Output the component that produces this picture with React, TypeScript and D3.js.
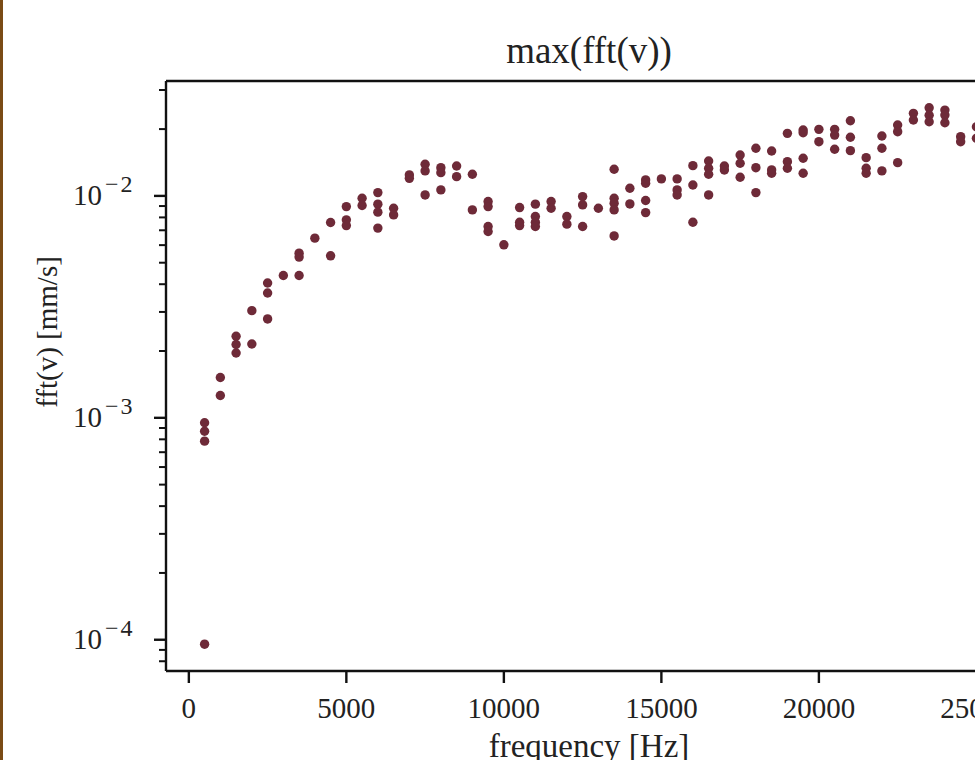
import React from "react";
import * as d3 from "d3";

const freqs = [
  500, 1000, 1500, 2000, 2500, 3000, 3500, 4000, 4500, 5000,
  5500, 6000, 6500, 7000, 7500, 8000, 8500, 9000, 9500, 10000,
  10500, 11000, 11500, 12000, 12500, 13000, 13500, 14000, 14500, 15000,
  15500, 16000, 16500, 17000, 17500, 18000, 18500, 19000, 19500, 20000,
  20500, 21000, 21500, 22000, 22500, 23000, 23500, 24000, 24500, 25000,
];

// measured maxima (mm/s) for each frequency
const amplitudes: number[][] = [
  [9.5e-4, 8.7e-4, 7.85e-4, 9.55e-5],
  [1.52e-3, 1.26e-3],
  [2.33e-3, 2.14e-3, 1.96e-3],
  [3.04e-3, 2.15e-3],
  [4.05e-3, 3.65e-3, 2.79e-3],
  [4.38e-3],
  [5.52e-3, 5.3e-3, 4.38e-3],
  [6.45e-3],
  [7.59e-3, 5.37e-3],
  [8.95e-3, 7.8e-3, 7.35e-3],
  [9.76e-3, 9.05e-3],
  [1.035e-2, 9.18e-3, 8.45e-3, 7.16e-3],
  [8.8e-3, 8.21e-3],
  [1.243e-2, 1.2e-2],
  [1.389e-2, 1.296e-2, 1.01e-2],
  [1.34e-2, 1.273e-2, 1.064e-2],
  [1.364e-2, 1.221e-2],
  [1.252e-2, 8.65e-3],
  [9.43e-3, 8.95e-3, 7.28e-3, 6.91e-3],
  [6.02e-3],
  [8.86e-3, 7.61e-3, 7.35e-3],
  [9.18e-3, 8.07e-3, 7.6e-3, 7.28e-3],
  [9.43e-3, 8.8e-3],
  [8.07e-3, 7.46e-3],
  [9.93e-3, 9.11e-3, 7.28e-3],
  [8.8e-3],
  [1.318e-2, 9.76e-3, 9.27e-3, 8.65e-3, 6.6e-3],
  [1.083e-2, 9.2e-3],
  [1.18e-2, 1.14e-2, 9.53e-3, 8.41e-3],
  [1.193e-2],
  [1.193e-2, 1.064e-2, 1.01e-2],
  [1.369e-2, 1.12e-2, 7.61e-3],
  [1.437e-2, 1.332e-2, 1.252e-2, 1.01e-2],
  [1.364e-2, 1.309e-2],
  [1.529e-2, 1.403e-2, 1.214e-2],
  [1.64e-2, 1.34e-2, 1.035e-2],
  [1.594e-2, 1.309e-2, 1.265e-2],
  [1.914e-2, 1.427e-2, 1.332e-2],
  [1.98e-2, 1.927e-2, 1.478e-2, 1.265e-2],
  [1.995e-2, 1.755e-2],
  [1.995e-2, 1.88e-2, 1.622e-2],
  [2.18e-2, 1.837e-2, 1.599e-2],
  [1.487e-2, 1.332e-2, 1.265e-2],
  [1.862e-2, 1.64e-2, 1.296e-2],
  [2.087e-2, 1.947e-2, 1.412e-2],
  [2.355e-2, 2.197e-2],
  [2.494e-2, 2.31e-2, 2.159e-2],
  [2.436e-2, 2.313e-2, 2.137e-2],
  [1.849e-2, 1.755e-2],
  [2.05e-2, 1.818e-2],
];

const xTicks = [0, 5000, 10000, 15000, 20000, 25000];
const yMajorExps = [-4, -3, -2];
const title = "max(fft(v))";
const xLabel = "frequency [Hz]";
const yLabel = "fft(v) [mm/s]";

const W = 975;
const H = 760;
const FONT = "'Liberation Serif', 'DejaVu Serif', serif";
const DOT = "#6e2a38";

export default function App() {
  const points = freqs.flatMap((f, i) => amplitudes[i].map((a) => ({ f, a })));
  const fMin = d3.min(points, (p) => p.f)!;
  const fMax = d3.max(points, (p) => p.f)!;
  const pad = (fMax - fMin) * 0.05;
  const left = 166, right = 1015, top = 81, bottom = 671;
  const x = d3.scaleLinear().domain([fMin - pad, fMax + pad]).range([left, right]);

  const lMin = Math.log10(d3.min(points, (p) => p.a)!);
  const lMax = Math.log10(d3.max(points, (p) => p.a)!);
  const lp = (lMax - lMin) * 0.05;
  const y = d3
    .scaleLog()
    .domain([Math.pow(10, lMin - lp), Math.pow(10, lMax + lp)])
    .range([bottom, top]);

  const [d0, d1] = y.domain();
  const minorTicks: number[] = [];
  for (let e = Math.floor(Math.log10(d0)); e <= Math.ceil(Math.log10(d1)); e++) {
    for (let k = 2; k <= 9; k++) {
      const v = k * Math.pow(10, e);
      if (v >= d0 && v <= d1) minorTicks.push(v);
    }
  }

  return (
    <svg
      width={W}
      height={H}
      style={{ position: "absolute", left: 0, top: 0, background: "#fff" }}
    >
      <rect x={0} y={0} width={W} height={H} fill="#fff" />
      <rect x={0} y={0} width={3} height={H} fill="#7a4b16" />

      <text x={589} y={63} fontFamily={FONT} fontSize={37} textAnchor="middle" fill="#222">
        {title}
      </text>

      {/* points */}
      <g>
        {points.map((p, i) => (
          <circle key={i} cx={x(p.f)} cy={y(p.a)} r={4.7} fill={DOT} />
        ))}
      </g>

      {/* x ticks */}
      {xTicks.map((t) => (
        <g key={t}>
          <line x1={x(t)} x2={x(t)} y1={bottom} y2={bottom + 12} stroke="#111" strokeWidth={2.4} />
          <text
            x={x(t)}
            y={718}
            fontFamily={FONT}
            fontSize={29}
            textAnchor="middle"
            fill="#222"
          >
            {String(t)}
          </text>
        </g>
      ))}

      {/* y minor ticks */}
      {minorTicks.map((t, i) => (
        <line key={i} x1={left - 7} x2={left} y1={y(t)} y2={y(t)} stroke="#111" strokeWidth={2} />
      ))}
      {/* y major ticks */}
      {yMajorExps.map((e) => {
        const yy = y(Math.pow(10, e));
        return (
          <g key={e}>
            <line x1={left - 12} x2={left} y1={yy} y2={yy} stroke="#111" strokeWidth={2.4} />
            <text x={73} y={yy + 9} fontFamily={FONT} fontSize={29} fill="#222">
              10
              <tspan dx={3} dy={-13} fontSize={24} letterSpacing={2}>
                {"\u2212" + Math.abs(e)}
              </tspan>
            </text>
          </g>
        );
      })}

      {/* spines */}
      <line x1={left} x2={left} y1={top} y2={bottom} stroke="#111" strokeWidth={2.4} />
      <line x1={left} x2={right} y1={top} y2={top} stroke="#111" strokeWidth={2.4} />
      <line x1={left} x2={right} y1={bottom} y2={bottom} stroke="#111" strokeWidth={2.4} />
      <line x1={right} x2={right} y1={top} y2={bottom} stroke="#111" strokeWidth={2.4} />

      <text x={589} y={757} fontFamily={FONT} fontSize={33} textAnchor="middle" fill="#222">
        {xLabel}
      </text>
      <text
        transform={`translate(57,332) rotate(-90)`}
        fontFamily={FONT}
        fontSize={29}
        textAnchor="middle"
        fill="#222"
      >
        {yLabel}
      </text>
    </svg>
  );
}
